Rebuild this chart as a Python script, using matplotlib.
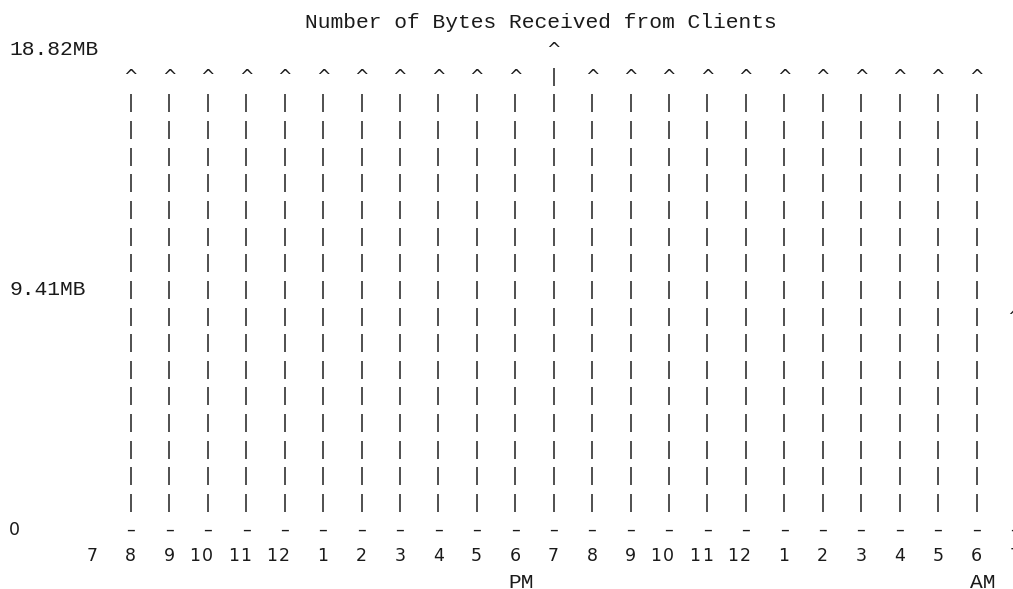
import matplotlib
matplotlib.use('Agg')
import matplotlib.pyplot as plt

# text-mode bar chart, one glyph per character cell
title = 'Number of Bytes Received from Clients'
hours = ['7', '8', '9', '10', '11', '12', '1', '2', '3', '4', '5', '6',
         '7', '8', '9', '10', '11', '12', '1', '2', '3', '4', '5', '6', '7']
# MB received in each hour slot (None = no data)
received_mb = [None, 17.8, 17.8, 17.8, 17.8, 17.8, 17.8, 17.8, 17.8, 17.8, 17.8, 17.8,
               18.82, 17.8, 17.8, 17.8, 17.8, 17.8, 17.8, 17.8, 17.8, 17.8, 17.8, 17.8,
               8.4]
ymax_mb = 18.82
ytick_labels = ['18.82MB', '9.41MB', '0']
ytick_rows = [0, 9, 18]
ampm = [('PM', 11), ('AM', 23)]   # marker text, under hour index

n_rows = 18
first_col = 6
col_step = 3

mono = 'Liberation Mono'
sans = 'DejaVu Sans'
mono_size = 15.3
sans_size = 12.5
ink = '#1a1a1a'

fig = plt.figure(figsize=(10.13, 5.89), dpi=100)
ax = fig.add_axes([0, 0, 1, 1])
ax.set_xlim(-15.5 / 12.81, (1013 - 15.5) / 12.81)
ax.set_ylim(-(589 - 55) / 26.65, 55 / 26.65)
ax.axis('off')

def put(col, row, s, family=sans, size=sans_size, ha='center'):
    ax.text(col, -row, s, family=family, fontsize=size, ha=ha, va='baseline', color=ink)

# title
put(41, -1, title, family=mono, size=mono_size)

# y labels
for lab, r in zip(ytick_labels, ytick_rows):
    if lab == '0':
        put(-0.5, r, lab, ha='left')
    else:
        put(-0.5, r, lab, family=mono, size=mono_size, ha='left')

# columns
for i, (h, v) in enumerate(zip(hours, received_mb)):
    col = first_col + col_step * i
    # hour label, right aligned onto the column
    for j, ch in enumerate(reversed(h)):
        put(col - j, n_rows + 1, ch)
    if v is None:
        continue
    height = int(round(v / ymax_mb * n_rows))
    top = n_rows - height
    put(col, top, '^')
    for r in range(top + 1, n_rows):
        put(col, r, '|')
    put(col, n_rows, '\u2013')

for txt, i in ampm:
    col = first_col + col_step * i
    put(col - 0.5, n_rows + 2, txt, family=mono, size=mono_size, ha='left')

fig.savefig('out.png', dpi=100)
